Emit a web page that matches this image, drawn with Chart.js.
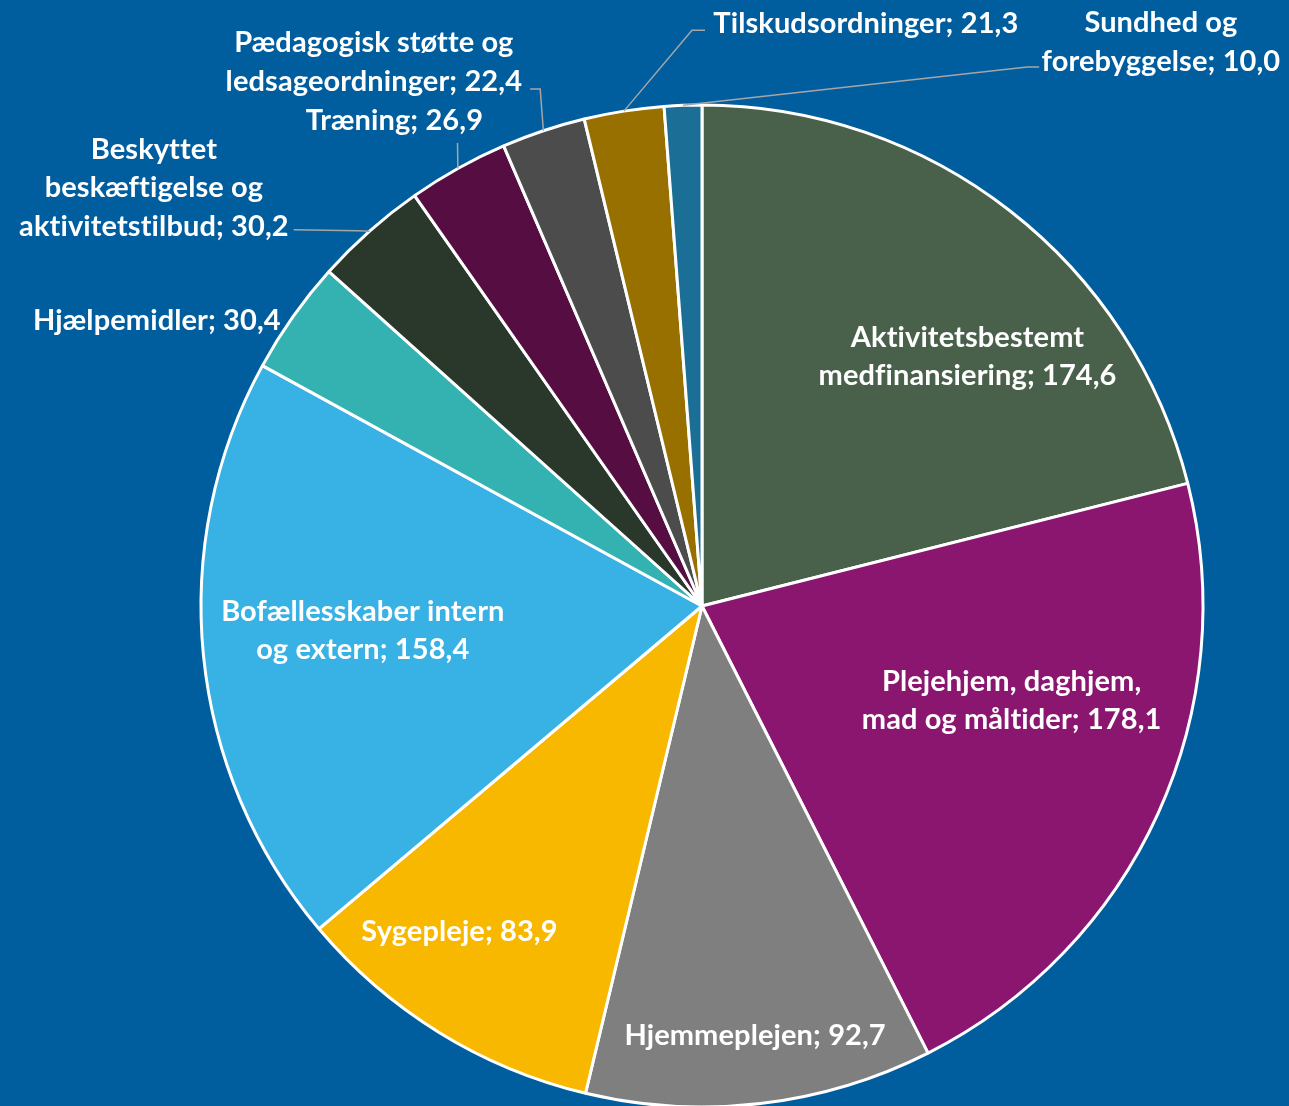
<!DOCTYPE html>
<html>
<head>
<meta charset="utf-8">
<script src="https://cdn.jsdelivr.net/npm/chart.js@4.4.1/dist/chart.umd.min.js"></script>
<style>
  html, body { margin: 0; padding: 0; background: #005E9F; overflow: hidden; }
  #wrap { width: 1289px; height: 1106px; position: relative; }
</style>
</head>
<body>
<div id="wrap"><canvas id="pie"></canvas></div>
<script>
// Kategorier (linjeskift som i originalen) og værdier
const categories = [
    ['Aktivitetsbestemt', 'medfinansiering'],
    ['Plejehjem, daghjem,', 'mad og måltider'],
    ['Hjemmeplejen'],
    ['Sygepleje'],
    ['Bofællesskaber intern', 'og extern'],
    ['Hjælpemidler'],
    ['Beskyttet', 'beskæftigelse og', 'aktivitetstilbud'],
    ['Træning'],
    ['Pædagogisk støtte og', 'ledsageordninger'],
    ['Tilskudsordninger'],
    ['Sundhed og', 'forebyggelse']
];
const values = [174.6, 178.1, 92.7, 83.9, 158.4, 30.4, 30.2, 26.9, 22.4, 21.3, 10.0];
const colors = ['#49614B', '#8B1670', '#7F7F7F', '#F9B800', '#38B1E4', '#33B2B1',
                '#2A382C', '#560D42', '#4C4C4C', '#987000', '#1B6F96'];

// Label-placering i enheder af radius, relativt til centrum
const labelPos = [
    [0.530, -0.498], [0.618, 0.189], [0.106, 0.857], [-0.484, 0.649], [-0.677, 0.049],
    [-1.088, -0.570], [-1.094, -0.835], [-0.614, -0.968], [-0.655, -1.086],
    [0.327, -1.163], [0.916, -1.125]
];
// Hjælpelinjer: knækpunkter (radius-enheder) fra kanten ud til teksten
const leaders = {
    6: [[-0.687, -0.749], [-0.815, -0.751]],
    7: [[-0.488, -0.924]],
    8: [[-0.323, -1.032], [-0.343, -1.032]],
    9: [[-0.020, -1.149], [0.006, -1.149]],
    10: [[0.649, -1.076], [0.673, -1.076]]
};

const BG = '#005E9F';
const FONT = 'bold 29px Lato, "Open Sans", sans-serif';
const LINE_H = 38.5;

const fmt = v => v.toFixed(1).replace('.', ',');

const bgPlugin = {
    id: 'bg',
    beforeDraw(chart) {
        const ctx = chart.ctx;
        ctx.save();
        ctx.fillStyle = BG;
        ctx.fillRect(0, 0, chart.width, chart.height);
        ctx.restore();
    }
};

const labelPlugin = {
    id: 'sliceLabels',
    afterDatasetsDraw(chart) {
        const ctx = chart.ctx;
        const meta = chart.getDatasetMeta(0);
        ctx.save();
        meta.data.forEach((arc, i) => {
            const { x, y, outerRadius: r, startAngle, endAngle } = arc.getProps(['x', 'y', 'outerRadius', 'startAngle', 'endAngle'], true);
            // hjælpelinje
            if (leaders[i]) {
                const mid = (startAngle + endAngle) / 2;
                ctx.beginPath();
                ctx.moveTo(x + Math.cos(mid) * r, y + Math.sin(mid) * r);
                leaders[i].forEach(p => ctx.lineTo(x + p[0] * r, y + p[1] * r));
                ctx.strokeStyle = '#A6A6A6';
                ctx.lineWidth = 1.5;
                ctx.stroke();
            }
            const lines = categories[i].slice();
            lines[lines.length - 1] += '; ' + fmt(values[i]);
            const cx = x + labelPos[i][0] * r;
            const cy = y + labelPos[i][1] * r;
            ctx.font = FONT;
            ctx.letterSpacing = '0.1px'; // undgå "ti"-ligatur
            ctx.fillStyle = '#FFFFFF';
            ctx.textAlign = 'center';
            ctx.textBaseline = 'middle';
            const top = cy - (lines.length - 1) * LINE_H / 2;
            lines.forEach((t, k) => ctx.fillText(t, cx, top + k * LINE_H));
        });
        ctx.restore();
    }
};

new Chart(document.getElementById('pie'), {
    type: 'pie',
    data: {
        labels: categories,
        datasets: [{
            data: values,
            backgroundColor: colors,
            borderColor: '#FFFFFF',
            borderWidth: 3,
            radius: 501
        }]
    },
    options: {
        responsive: true,
        maintainAspectRatio: false,
        animation: false,
        layout: { padding: { left: 200, right: 85, top: 106, bottom: 0 } },
        plugins: {
            legend: { display: false },
            tooltip: { enabled: false }
        }
    },
    plugins: [bgPlugin, labelPlugin]
});
</script>
</body>
</html>
